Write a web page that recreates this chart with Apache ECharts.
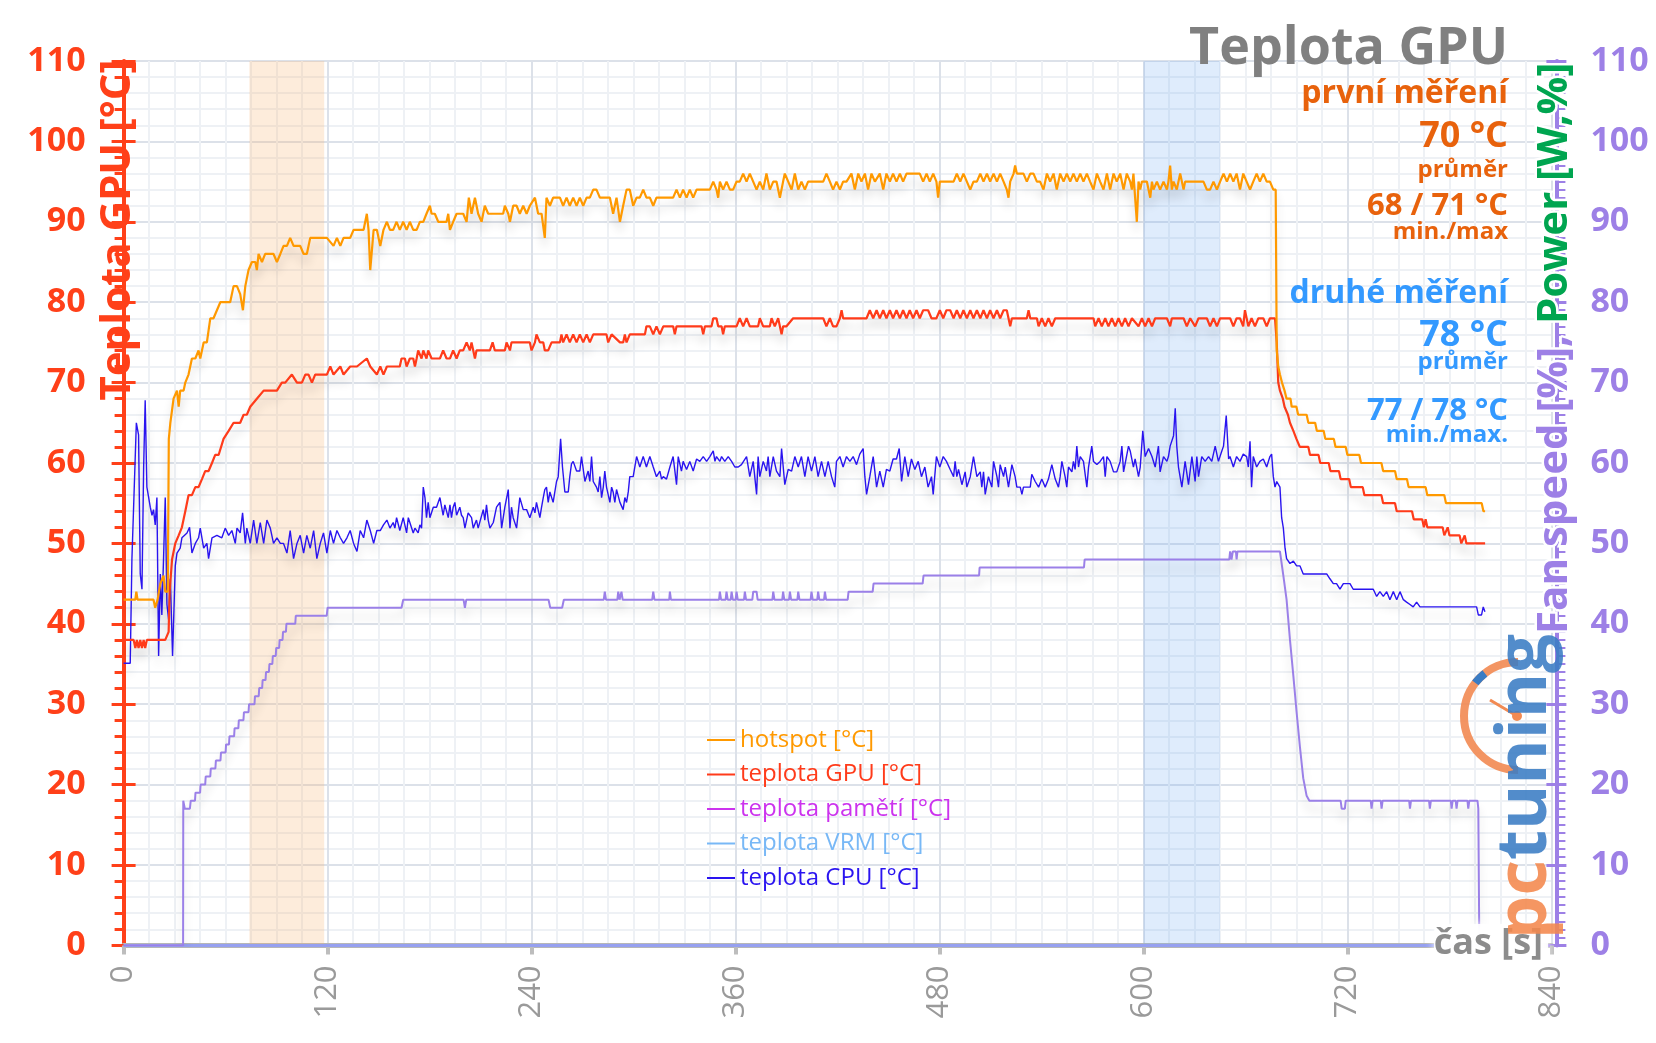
<!DOCTYPE html>
<html>
<head>
<meta charset="utf-8">
<title>Teplota GPU</title>
<script src="https://cdn.jsdelivr.net/npm/echarts@6.0.0/dist/echarts.min.js"></script>
<style>
html, body { margin: 0; padding: 0; background: #fff; }
#chart { width: 1656px; height: 1043px; }
</style>
</head>
<body>
<div id="chart"></div>
<script>
// [time s, value]
const hotspot = [
  [0,43],[6.9,43],[7.5,44],[8.2,43],[17.6,43],[18.6,42],[20,43],[21.6,45],[23.5,46],[24.5,44],[26,44],[26.6,63],[27.5,65],[29.4,68],[31.4,69],[32.4,67],[33.3,69],[35.3,69],[36.3,70],[38.2,71],[40.2,73],[42.2,73],[44.1,74],[45.1,73],[47.1,75],[49,75],[51,78],[52.9,78],[54.9,79],[56.9,80],[60.8,80],[62.7,80],[64.7,82],[66.7,82],[68.6,81],[70.2,79],[71.6,82],[73.5,84],[75.5,85],[77.5,85],[78.4,84],[79.4,86],[81.4,85],[83.3,86],[86.3,86],[88.2,86],[90.2,85],[92.2,86],[94.1,87],[96.1,87],[98,88],[100,87],[102,87],[103.9,87],[105.9,86],[107.8,86],[109.8,88],[111.8,88],[113.7,88],[119.6,88],[123.5,87],[125.5,88],[127.5,87],[129.4,88],[133.3,88],[135.3,89],[138.2,89],[141.2,89],[143.1,91],[144.1,89],[145.1,84],[147.1,89],[149,89],[151,87],[152.9,89],[154.9,90],
  [156.7,89],[158.6,89],[160.6,90],[162.5,89],[164.5,90],[166.5,89],[168.4,90],[170.4,89],[172.4,89],[174.3,90],[176.3,90],[178.2,91],[180.2,92],[181.2,91],[183.1,91],[185.1,90],[188,90],[190,90],[191,91],[192,89],[193.9,90],[195.9,91],[197.8,91],[199.8,91],[201.8,90],[203.1,93],[204.7,91],[206.7,93],[208.6,91],[210.6,90],[212.5,92],[214.5,91],[216.5,91],[220.4,91],[223.3,91],[224.3,92],[226.3,91],[227.3,90],[229.2,92],[231.2,92],[233.1,91],[235.1,92],[237.1,91],[239,92],[242,93],[243.9,91],[245.9,91],[247.8,88],[248.8,93],[250.8,92],[252.7,93],[254.7,93],[256.7,93],[258.6,92],[260.6,93],[262.5,92],[264.5,93],[266.5,92],[268.4,93],[270.4,92],[272.4,93],[274.3,93],[276.3,94],[278.2,94],[280.2,93],[282.2,93],[284.1,93],[286.1,93],[288,91],[290,93],[292,90],[293.9,92],[295.9,94],[297.8,94],[299.8,92],[301.8,93],[303.7,93],[305.7,94],[307.6,93],[309.6,93],[311.6,92],[313.5,93],[317.5,93],
  [321.4,93],[323.3,93],[325.3,94],[327.3,93],[329.2,94],[331.2,93],[333.1,94],[335.1,93],[337.1,94],[339,94],[341,94],[343,94],[344.9,94],[346.9,95],[348.8,94],[349.8,93],[350.8,95],[352.7,94],[354.7,95],[356.7,94],[358.6,94],[360.6,95],[362.5,95],[364.5,96],[366.5,95],[368.4,96],[370.4,95],[372.4,94],[374.3,95],[376.3,94],[378.2,96],[380.2,94],[382.2,95],[384.1,95],[386.1,93],[388,95],[389,96],[391,95],[393,94],[394.9,96],[396.9,94],[398.8,95],[400.8,94],[402.7,95],[404.7,95],[407.6,95],[411.6,95],[413.5,96],[415.5,95],[417.4,94],[419.4,95],[421.4,94],[423.3,95],[425.3,95],[428.2,96],[430.2,94],[432.2,96],[434.1,95],[436.1,96],[438,94],[440,96],[442,95],[444.9,96],[446.9,94],[448.8,96],[450.8,95],[452.7,96],[454.7,95],[456.7,96],[458.6,95],[460.6,96],[462.5,96],[466.5,96],[468.4,96],[470.4,95],[472.4,96],[474.3,95],[476.3,96],[478.2,95],[479.2,93],[480.2,95],[484.1,95],
  [486.3,95],[488.3,95],[490.2,96],[492.2,95],[494.1,96],[496.1,95],[498.1,94],[500,95],[502,95],[504,96],[505.9,95],[507.9,96],[509.8,95],[511.8,96],[513.8,95],[515.7,96],[517.7,95],[519.6,94],[520.6,93],[521.6,95],[523.6,96],[524.5,97],[525.5,96],[527.5,96],[529.4,96],[531.4,95],[533.4,96],[535.3,96],[537.3,95],[539.2,95],[541.2,94],[543.2,96],[545.1,95],[547.1,96],[549,94],[551,96],[553,95],[554.9,96],[556.9,95],[558.8,96],[560.8,95],[562.8,96],[564.7,95],[566.7,96],[568.6,95],[570.6,94],[572.6,96],[574.5,95],[576.5,94],[578.5,96],[580.4,94],[582.4,96],[584.3,95],[586.3,96],[588.3,94],[590.2,96],[592.2,95],[593.2,94],[594.1,96],[595.1,93],[596.1,90],[597.1,95],[598.1,94],[599.1,95],[602,95],[604,93],[605,95],[605.9,94],[607.9,95],[609.8,94],[611.8,95],[613.8,94],[614.7,95],[615.7,97],[616.7,94],[617.7,95],[619.6,94],[621.6,96],[623.6,94],[624.5,95],[627.5,95],[635.3,95],[637.3,94],[639.2,94],[641.2,95],[643.2,94],[645.1,95],[647.1,96],[649.1,95],
  [651,96],[652.9,95],[654.8,96],[656.8,94],[658.7,96],[660.7,95],[662.7,94],[664.6,95],[666.6,96],[668.5,95],[670.5,96],[672.5,95],[674.4,95],[676.4,94],[677.8,94],
  [678.4,74],[679.3,72],[680.3,71],[681.5,70],[683,69],[684.2,68],[686.5,68],[687.2,67],[690,67],[691,66],[696,66],[697,65],[701,65],[702,64],[706,64],[707,63],[712,63],[713,62],[719,62],[720,61],[727,61],[728,60],[740,60],[741,59],[748,59],[749,58],[755,58],[756,57],[766,57],[767,56],[777,56],[778,55],[799,55],[800,54],[801,54]
];

const gpuTemp = [
  [0,38],[5.9,38],[6.9,37],[7.8,38],[8.8,37],[9.8,38],[10.8,37],[11.8,38],[12.7,37],[13.7,38],[21.6,38],[24.5,38],[26.5,39],[27.1,44],[28.5,48],[30.4,50],[32.4,51],[34.3,52],[36.3,54],[38.2,56],[40.2,56],[42.2,57],[44.1,57],[46.1,58],[48,59],[50,59],[52,60],[53.9,61],[55.9,61],[58.8,63],[61.8,64],[64.7,65],[68.6,65],[70.6,66],[72.5,66],[74.5,67],[78.4,68],[82.4,69],[86.3,69],[90.2,69],[93.1,70],[95.1,70],[99,71],[102,70],[104.9,70],[106.9,71],[108.8,71],[110.8,70],[112.7,71],[119.6,71],[121.6,72],[123.5,71],[127.5,72],[129.4,71],[133.3,72],[137.3,72],[143.1,73],[145.1,72],[149,71],[151,72],[152.9,71],[154.9,72],
  [156.7,72],[162.5,72],[163.5,73],[165.5,73],[166.5,72],[168.4,73],[170.4,73],[171.4,72],[172.4,73],[173.3,74],[175.3,73],[176.3,74],[178.2,73],[179.2,74],[181.2,73],[186.1,73],[188,74],[190,73],[192,73],[193.9,74],[195.9,73],[197.8,74],[199.8,74],[201.8,75],[203.7,74],[204.7,75],[206.7,73],[207.6,74],[212.5,74],[215.5,74],[217.1,75],[218.4,74],[224.3,74],[225.3,75],[227.3,74],[228.2,75],[239,75],[240,74],[242,75],[242.9,76],[244.9,75],[246.9,75],[247.8,74],[249.8,74],[251.8,75],[256.7,75],[257.6,76],[258.6,75],[260.6,76],[262.5,75],[264.5,76],[266.5,75],[268.4,76],[270.4,75],[272.4,76],[274.3,75],[276.3,76],[284.1,76],[285.1,75],[287.1,76],[292,75],[293.9,75],[294.9,76],[295.9,75],[297.8,76],[306.7,76],[307.6,77],[309.6,77],[311.6,76],[313.5,77],[315.5,76],[317.5,77],
  [321.4,77],[323.3,77],[324.3,76],[325.3,77],[340,77],[341,76],[342,77],[345.9,77],[346.9,78],[348.8,78],[349.8,77],[351.8,77],[352.7,76],[353.7,77],[360.6,77],[362.5,78],[364.5,77],[366.5,78],[368.4,77],[373.3,77],[374.3,78],[376.3,77],[380.2,77],[381.2,78],[383.1,77],[385.1,78],[387.1,76],[388,77],[390,77],[393.9,78],[411.6,78],[413.5,77],[415.5,78],[417.4,77],[419.4,77],[421.4,78],[422.4,79],[423.3,78],[437.1,78],[439,79],[441,78],[443,79],[444.9,78],[446.9,79],[448.8,78],[450.8,79],[452.7,78],[454.7,79],[456.7,78],[458.6,79],[460.6,78],[462.5,79],[464.5,78],[466.5,79],[468.4,78],[470.4,79],[473.3,79],[475.3,78],[478.2,78],[480.2,79],[482.2,78],[484.1,79],
  [486.3,79],[488.3,78],[490.2,79],[492.2,78],[494.1,79],[496.1,78],[498.1,79],[500,78],[502,79],[504,78],[505.9,79],[507.9,78],[509.8,79],[511.8,78],[513.8,79],[515.7,78],[517.7,79],[519.6,79],[521.6,77],[522.6,78],[531.4,78],[532.4,79],[533.4,78],[537.3,78],[538.3,77],[540.2,78],[542.2,77],[544.1,78],[546.1,77],[548.1,78],[570.6,78],[571.6,77],[573.6,78],[575.5,77],[577.5,78],[579.4,77],[581.4,78],[583.4,77],[585.3,78],[587.3,77],[589.2,78],[591.2,77],[593.2,78],[597.1,77],[599.1,78],[601,77],[603,78],[605,77],[606.9,78],[613.8,78],[615.7,77],[616.7,78],[623.6,78],[625.5,77],[627.5,78],[630.4,77],[632.4,78],[637.3,78],[639.2,77],[641.2,78],[643.2,77],[645.1,78],[649.1,78],
  [651,78],[652.9,77],[654.8,78],[656.8,78],[658.7,77],[659.7,79],[661.7,77],[663.6,78],[665.6,77],[667.6,78],[670.5,78],[672.5,77],[674.4,78],[677.4,78],
  [678.4,75],[679.3,70],[680.3,69],[682,68],[683,67],[685,66],[686.2,65],[688.2,64],[690,63],[692,62],[697,62],[698,61],[703,61],[704,60],[709,60],[710,59],[715,59],[716,58],[721,58],[722,57],[729,57],[730,56],[740,56],[741,55],[748,55],[749,54],[758,54],[759,53],[764,53],[765,52],[766,53],[767,52],[776,52],[777,51],[779,52],[780,51],[786,51],[787,50],[789,51],[790,50],[801,50]
];

const cpuTemp = [
  [0,35.1],[3.9,35.1],[4.9,48.1],[7.5,65],[8.8,63.5],[9.8,46.2],[10.8,44.3],[11.8,59.6],[12.7,67.8],[13.7,57],[15.7,54.5],[16.7,53.5],[17.6,54.2],[18.6,52.3],[19.6,55.7],[20.6,36],[21.6,46.2],[22.5,41.1],[23.5,48.1],[24.5,55.7],[25.5,42.4],[26.5,40.5],[27.5,45.6],[28.8,36],[30.4,47.2],[31.4,48.8],[33.3,49.4],[34.3,50.7],[37.3,51.3],[38.8,52],[40.2,48.8],[42.2,50],[44.1,50.7],[45.1,51.9],[47.1,49.4],[49,50],[50,48.1],[52,50.7],[54.9,51],[57.8,50.7],[59.8,51.9],[61.8,51],[63.7,51.6],[65.7,50],[66.7,51.9],[68.6,51.3],[70,53.8],[71.6,50],[72.5,51.9],[74.5,50],[76.5,52.9],[78.4,50],[80.4,52.6],[82.4,50],[84.3,52.9],[86.3,51.9],[88.2,50],[90.2,50.7],[92.2,50],[94.1,50],[96.1,48.8],[98,51.6],[100,48.1],[102,50],[103.9,51],[105.9,48.8],[107.8,51],[109.8,49.4],[111.8,51.6],[113.7,48.1],[115.7,50],[117.6,51.3],[119.6,48.8],[121.6,51.6],[123.5,50],[125.5,51.6],[127.5,50.7],[129.4,50],[131.4,50.7],[133.3,51.6],[135.3,50],[137.3,49],[139.2,51.6],[141.2,50.7],[143.1,52.9],[145.1,51.6],[147.1,50],[149,51.6],[151,51.6],[152.9,52.3],[154.9,52.9],
  [156.7,51.9],[158.6,52.6],[159.6,51.9],[160.6,53.2],[162.5,51.6],[164.5,53.2],[166.5,51.3],[167.5,53.2],[168.4,53.2],[170.4,51.3],[171.4,51.9],[173.3,51.3],[174.3,52.3],[175.3,51.9],[176.3,57],[177.3,55.7],[178.2,53.2],[179.2,55.1],[180.2,53.2],[182.2,54.5],[184.1,54.5],[186.1,55.7],[187.1,54.5],[188,53.5],[189,54.8],[191,53.2],[192,54.8],[192.9,53.2],[193.9,54.5],[194.9,55.1],[195.9,53.5],[197.8,54.5],[198.8,53.5],[199.8,53.2],[200.8,51.9],[202.7,53.8],[204.7,53.2],[205.7,51.9],[207.6,52.9],[208.6,51.9],[209.6,51.9],[211.6,54.2],[212.5,52.9],[213.5,54.8],[214.5,52.9],[215.5,51.9],[217.5,52.6],[219.4,54.5],[220.4,54.5],[221.4,55.1],[222.4,51.9],[224.3,54.5],[226.3,56.7],[227.3,51.9],[228.2,54.5],[229.2,53.2],[231.2,51.9],[233.1,55.7],[235.1,54.2],[237.1,54.2],[239,53.2],[241,54.5],[242,53.8],[242.9,55.1],[244.9,53.2],[245.9,54.5],[246.9,55.7],[247.8,56.7],[248.8,57],[249.8,55.1],[250.8,56.4],[252.7,55.1],[254.7,57.7],[255.7,58.3],[257.1,63],[258.2,59.5],[259.6,56.4],[261.6,56.4],[262.5,58.3],[263.5,59.9],[264.5,60.2],[266.5,59],[268.4,59],[269.4,60.8],[271.4,57.7],[273.3,59],[274.3,57.7],[275.3,60.8],[276.3,57.7],[278.2,57],[279.2,56.4],[280.2,58.3],[281.2,55.7],[282.2,57],[283.1,59],[284.1,57],[286.1,55.1],[287.1,57],[288,56.4],[289,55.1],[290,56.7],[292,55.1],[293.9,54.2],[294.9,55.7],[295.9,55.1],[296.9,56.4],[297.8,58.3],[299.8,58.3],[301.8,60.8],[302.7,60.2],[303.7,59.5],[305.7,60.8],[307.6,59.5],[309.6,60.8],[311.6,59.5],[313.5,58.3],[315.5,59],[316.5,58],[317.5,58.3],[319.4,58],
  [321.4,59.5],[323.3,60.8],[325.3,57.3],[326.3,60.8],[328.2,59],[329.2,60.2],[331.2,59.2],[333.1,60.2],[335.1,59],[337.1,60.5],[339,60.2],[341,60.8],[343,60.2],[344.9,60.8],[346.9,61.5],[347.9,60.2],[348.8,60.8],[350.8,60.2],[351.8,60.8],[353.7,60.2],[355.7,60.8],[357.7,60.2],[359.6,59.5],[361.6,59.5],[363.5,59.8],[366.5,60.8],[368.4,58.3],[370.4,60.2],[372.4,56.1],[373.3,60.8],[374.3,58.3],[376.3,60.2],[378.2,59],[379.2,60.8],[380.2,58.3],[382.2,60.8],[384.1,59],[386.1,58.3],[387.1,61.8],[389,57.3],[391,59.2],[393,59],[394.9,60.8],[396.9,59.5],[398.8,60.8],[400.8,58.3],[402.7,60.8],[404.7,59],[406.7,60.8],[408.6,58.3],[410.6,60.2],[412.6,58.3],[414.5,60.2],[416.5,58.3],[418.4,57],[419.4,60.2],[421.4,60.8],[423.3,59.5],[425.3,60.8],[427.3,60.2],[429.2,60.8],[431.2,59.8],[433.1,61.1],[435.1,61.8],[436.1,58.3],[437.1,56.1],[439,58.3],[441,60.8],[443,57],[444.9,59],[446.9,57],[448.8,59.2],[450.8,59],[452.7,60.5],[454.7,60.5],[456.3,61.8],[457.7,57.7],[459.6,60.8],[461.6,58.3],[463.5,60.5],[465.5,59.2],[467.5,60.2],[469.4,58.3],[471.4,59.5],[473.3,57],[475.3,58.3],[476.3,56.1],[478.2,60.8],[480.2,59.5],[482.2,60.8],[484.1,60.2],
  [486.3,59.2],[488.3,58.3],[489.2,60.2],[490.2,58.3],[491.2,59.2],[493.2,57.3],[495.1,58.9],[496.1,57],[498.1,58.3],[500,60.8],[501,60.8],[502,58.3],[504,58.9],[504.9,57],[505.9,58.9],[506.9,56.1],[508.8,58.3],[510.8,57],[511.8,60.2],[513.8,58.3],[514.7,57],[515.7,59.8],[517.7,58.3],[518.7,59.5],[520.6,57],[522.6,59.8],[524.5,58.3],[525.5,57],[527.5,57],[528.5,56.1],[529.4,57],[533.4,57],[534.3,58.6],[536.3,57.7],[538.3,57],[540.2,58],[542.2,57],[544.1,58],[546.1,59.8],[548.1,58],[550,57],[551,58.3],[552,60.2],[553.9,58.3],[554.9,57],[555.9,59.5],[557.9,58.9],[558.8,60.2],[559.8,59.2],[560.8,62.1],[561.8,59.5],[562.8,60.8],[564.7,60.2],[566.7,57],[567.7,59.5],[569.6,62.1],[570.6,60.2],[572.6,59.8],[574.5,60.2],[576.5,60.8],[577.5,58.3],[578.5,60.8],[580.4,60.2],[582.4,58.9],[584.3,58.9],[586.3,60.2],[587.3,62.1],[588.3,58.9],[589.2,58.9],[591.2,62.1],[592.2,61.5],[594.1,59.5],[595.1,60.5],[597.1,58.3],[598.1,59.5],[599.6,64],[601,60.8],[603,61.8],[605,60.8],[606.9,59.5],[608.8,62.1],[609.8,58.9],[611.8,60.8],[613.8,60.2],[614.7,60.8],[615.7,62.1],[617.7,63.4],[618.7,66.8],[619.6,62.1],[620.6,59.5],[622.6,57],[624.5,60.2],[626.5,57.3],[628.5,60.8],[630.4,57.7],[631.4,60.8],[632.4,58.3],[634.3,60.8],[636.3,60.2],[638.3,60.8],[640.2,60.2],[642.2,62.1],[644.1,60.2],[646.1,61.5],[647.1,62.1],[648.7,65.9],[650.1,60.5],
  [650.9,60.8],[652.9,59.5],[654.8,60.8],[656.8,60.2],[658.7,61.1],[660.7,60.8],[661.7,59.5],[662.7,62.7],[663.6,57],[664.6,60.8],[666.6,59.5],[668.5,60.2],[670.5,60.5],[672.5,59.5],[674.4,60.8],[675.4,61.1],[676.4,58.3],[677.4,57],[678.4,57.7],[679.3,57.7],[680.3,57],[681.3,53.2],[682.3,51.9],[683.3,49.4],[684.2,48.1],[686.2,47.5],[688.2,47.8],[690.1,47.2],[692.1,47.2],[694,46.2],[707.8,46.2],[709.7,45.6],[711.7,45],[713.6,45],[715.6,44.3],[717.6,45],[721.5,45],[723.4,44.3],[735.2,44.3],[737.2,43.4],[739.1,44],[741.1,43.4],[743.1,44],[745,43],[747,44],[749,43],[750.9,44],[752.9,43],[754.8,42.7],[756.8,42.4],[758.7,42.1],[760.7,42.7],[762.7,42.1],[796,42.1],[797,41.1],[798.9,41.1],[799.9,42.1],[800.9,41.5]
];

const fanSpeed = [
  [0,0],[35,0],[35.1,18],[36,17],[39,17],[39.5,18],[42,18],[42.3,19],[45,19],[45.3,20],[48,20],[48.3,21],[51,21],[51.3,22],[54,22],[54.3,23],[57,23],[57.3,24],[60,24],[60.3,25],[62,25],[62.3,26],[65,26],[65.3,27],[67.5,27],[67.8,28],[70.5,28],[70.8,29],[73.5,29],[73.8,30],[77,30],[77.3,31],[79.5,31],[79.8,32],[81.5,32],[81.8,33],[83.5,33],[83.8,34],[85.5,34],[85.8,35],[87.5,35],[87.8,36],[89.5,36],[89.8,37],[91.5,37],[91.8,38],[93.5,38],[93.8,39],[95.5,39],[95.8,40],[101,40],[101.3,41],[119.5,41],[120,42],
  [163.5,42],[164.5,43],[200,43],[200.8,42],[201.6,43],[250,43],[251,42],[258,42],[259,43],[282.5,43],[283.1,44],[283.8,43],[290.5,43],[291,44],[291.8,43],[292.4,43],[292.9,44],[293.6,43],[311,43],[311.6,44],[312.3,43],
  [321,43],[321.4,44],[322,43],[350.3,43],[350.8,44],[351.5,43],[354.2,43],[354.7,44],[355.4,43],[357.2,43],[357.7,44],[358.4,43],[360.1,43],[360.6,44],[361.3,43],[365,43],[365.5,44],[366.2,43],[369.9,43],[370.4,44],[372.4,44],[373,43],[381.7,43],[382.2,44],[382.9,43],[387.5,43],[388,44],[388.7,43],[391.5,43],[392,44],[392.7,43],[396.4,43],[396.9,44],[397.6,43],[404.2,43],[404.7,44],[405.4,43],[408.1,43],[408.6,44],[409.3,43],[412.1,43],[412.6,44],[413.3,43],[426,43],[426.5,44],[440.7,44],[441.2,45],[470.1,45],[470.6,46],
  [503.3,46],[503.6,47],[565,47],[565.4,48],[650.5,48],[651,49],[651.8,48],[652.6,49],[654.4,49],[654.8,48],[655.3,49],
  [680.3,49],[682.3,46],[684.2,43],[686.2,38],[688.2,33.5],[690.1,29],[692.1,24.6],[694,20.8],[696,18.6],[697.6,18],[716,18],[716.6,17],[718.5,17],[719,18],[733.7,18],[734.2,17],[734.8,18],[739.6,18],[740.1,17],[740.7,18],[756.3,18],[756.8,17],[757.4,18],[768,18],[768.5,17],[769.1,18],[780.8,18],[781.3,17],[781.9,18],[783.7,18],[784.2,17],[784.8,18],[790.6,18],[791.1,17],[791.7,18],[796.5,18],[797,17],[797.4,17],[797.6,0]
];

const powerZero = [[0, 0], [800, 0]];
const memTemp = [];
const vrmTemp = [];

const bandFirst = [74, 118];
const bandSecond = [600, 645];

const seriesNames = ['hotspot [°C]', 'teplota GPU [°C]', 'teplota pamětí [°C]', 'teplota VRM [°C]', 'teplota CPU [°C]'];
const seriesColors = ['#ff9900', '#ff3b1a', '#cc33ee', '#78b8f6', '#2a14f0'];

const fanColor = '#9b80e8';
const zeroColor = '#96a0f0';
const leftColor = '#ff4019';
const rightColor = '#9d80e6';
const firstColor = '#e8620c';
const secondColor = '#3399ff';
const FONT = '"Open Sans"';

const chart = echarts.init(document.getElementById('chart'));

function lineSeries(name, data, color, width, yAxisIndex) {
  return {
    name: name,
    type: 'line',
    data: data,
    yAxisIndex: yAxisIndex || 0,
    showSymbol: false,
    symbol: 'none',
    itemStyle: { color: color },
    lineStyle: {
      color: color, width: width,
      shadowColor: 'rgba(0,0,0,0.16)', shadowBlur: 10, shadowOffsetY: 9
    },
    z: 3
  };
}

function txt(text, x, y, size, color, opts) {
  const o = opts || {};
  return {
    type: 'text', x: x, y: y, z: 100,
    rotation: o.rotation || 0,
    style: {
      text: text,
      font: (o.weight || 'bold') + ' ' + size + 'px ' + FONT,
      fill: color,
      align: o.align || 'right', textAlign: o.align || 'right',
      verticalAlign: 'middle', textVerticalAlign: 'middle',
      stroke: o.stroke || null, lineWidth: o.lineWidth || 0,
      opacity: o.opacity == null ? 1 : o.opacity
    }
  };
}

const yBase = {
  type: 'value', min: 0, max: 110, interval: 10
};

const option = {
  animation: false,
  backgroundColor: '#ffffff',
  textStyle: { fontFamily: FONT },
  grid: { left: 123.6, right: 104.6, top: 61, bottom: 97.6, outerBoundsMode: 'none', containLabel: false },
  legend: {
    orient: 'vertical', left: 702, top: 723,
    itemWidth: 28, itemHeight: 2, itemGap: 10.5, icon: 'rect',
    textStyle: { fontFamily: FONT, fontSize: 24, lineHeight: 24 },
    data: seriesNames.map((n, i) => ({ name: n, textStyle: { color: seriesColors[i] } }))
  },
  xAxis: {
    type: 'value', min: 0, max: 840, interval: 120,
    axisLine: { onZero: false, lineStyle: { color: '#b6b6b6', width: 5 } },
    axisTick: { show: true, length: 9, lineStyle: { color: '#bdbdbd', width: 4 } },
    minorTick: { show: false, splitNumber: 8 },
    splitLine: { show: true, lineStyle: { color: '#dce1e9', width: 2 } },
    minorSplitLine: { show: true, lineStyle: { color: '#eef1f5', width: 2 } },
    axisLabel: { rotate: 90, color: '#9a9a9a', fontSize: 31, fontFamily: FONT, margin: 20 }
  },
  yAxis: [
    Object.assign({}, yBase, {
      position: 'left',
      axisLine: { show: true, onZero: false, lineStyle: { color: leftColor, width: 4 } },
      axisTick: { show: true, length: 12, lineStyle: { color: leftColor, width: 3 } },
      minorTick: { show: true, splitNumber: 5, length: 9, lineStyle: { color: leftColor, width: 3 } },
      splitLine: { show: true, lineStyle: { color: '#dce1e9', width: 2 } },
      minorSplitLine: { show: true, lineStyle: { color: '#eef1f5', width: 2 } },
      axisLabel: { color: leftColor, fontSize: 34, fontWeight: 'bold', fontFamily: FONT, margin: 38 }
    }),
    Object.assign({}, yBase, {
      position: 'left',
      axisLine: { show: false, onZero: false },
      axisTick: { show: true, inside: true, length: 12, lineStyle: { color: leftColor, width: 3 } },
      splitLine: { show: false },
      axisLabel: { show: false }
    }),
    Object.assign({}, yBase, {
      position: 'right', offset: 5,
      axisLine: { show: true, onZero: false, lineStyle: { color: rightColor, width: 4 } },
      axisTick: { show: true, length: 10, lineStyle: { color: rightColor, width: 3 } },
      minorTick: { show: true, splitNumber: 10, length: 9, lineStyle: { color: rightColor, width: 2 } },
      splitLine: { show: false },
      axisLabel: { color: rightColor, fontSize: 34, fontWeight: 'bold', fontFamily: FONT, margin: 34 }
    }),
    Object.assign({}, yBase, {
      position: 'right', offset: 5,
      axisLine: { show: false, onZero: false },
      axisTick: { show: true, inside: true, length: 10, lineStyle: { color: rightColor, width: 3 } },
      splitLine: { show: false },
      axisLabel: { show: false }
    })
  ],
  series: [
    {
      name: 'power', type: 'line', data: powerZero, showSymbol: false, symbol: 'none',
      lineStyle: { color: zeroColor, width: 3 }, z: 2,
      markArea: {
        silent: true,
        data: [
          [{ xAxis: bandFirst[0], itemStyle: { color: 'rgba(247,180,110,0.25)' } }, { xAxis: bandFirst[1] }],
          [{ xAxis: bandSecond[0], itemStyle: { color: 'rgba(110,170,240,0.22)' } }, { xAxis: bandSecond[1] }]
        ]
      }
    },
    lineSeries('fan', fanSpeed, fanColor, 2, 2),
    lineSeries(seriesNames[2], memTemp, seriesColors[2], 2),
    lineSeries(seriesNames[3], vrmTemp, seriesColors[3], 2),
    lineSeries(seriesNames[4], cpuTemp, seriesColors[4], 1.4),
    lineSeries(seriesNames[1], gpuTemp, seriesColors[1], 2.2),
    lineSeries(seriesNames[0], hotspot, seriesColors[0], 2.2)
  ],
  graphic: [
    txt('Teplota GPU', 1508, 49, 52, '#808080'),
    txt('první měření', 1508, 94, 32, firstColor),
    txt('70 °C', 1508, 137, 36, firstColor),
    txt('průměr', 1508, 170, 24, firstColor),
    txt('68 / 71 °C', 1508, 206, 31, firstColor),
    txt('min./max', 1508, 232, 24, firstColor),
    txt('druhé měření', 1508, 294, 32, secondColor),
    txt('78 °C', 1508, 336, 36, secondColor),
    txt('průměr', 1508, 362, 24, secondColor),
    txt('77 / 78 °C', 1508, 411, 31, secondColor),
    txt('min./max.', 1508, 435, 24, secondColor),
    txt('Teplota GPU [°C]', 118, 230, 42, leftColor, { rotation: Math.PI / 2, align: 'center' }),
    txt('Power [W,%]', 1555, 324, 42, '#00a550', { rotation: Math.PI / 2, align: 'left', stroke: '#fff', lineWidth: 5 }),
    txt('Fan speed [%], ', 1555, 324, 42, rightColor, { rotation: Math.PI / 2, align: 'right', stroke: '#fff', lineWidth: 5 }),
    {
      type: 'rect', z: 99, shape: { x: 1434, y: 924, width: 114, height: 40, r: 8 },
      style: { fill: 'rgba(255,255,255,0.9)', shadowColor: '#fff', shadowBlur: 8 }
    },
    txt('čas [s]', 1543, 944, 36, '#8c8c8c'),
    // pctuning logo
    {
      type: 'arc', z: 100,
      shape: { cx: 1518, cy: 716, r: 54, startAngle: Math.PI / 2, endAngle: Math.PI * 1.5, clockwise: true },
      style: { stroke: '#f28a52', lineWidth: 8, fill: null, opacity: 0.9 }
    },
    {
      type: 'arc', z: 101,
      shape: { cx: 1518, cy: 716, r: 54, startAngle: Math.PI * 1.21, endAngle: Math.PI * 1.29, clockwise: true },
      style: { stroke: '#3a7cc4', lineWidth: 8, fill: null }
    },
    {
      type: 'line', z: 100, shape: { x1: 1490, y1: 700, x2: 1517, y2: 716 },
      style: { stroke: '#f28a52', lineWidth: 3 }
    },
    { type: 'circle', z: 100, shape: { cx: 1517, cy: 716, r: 5 }, style: { fill: '#f28a52' } },
    txt('pc', 1526, 860, 69, '#f4884c', { rotation: Math.PI / 2, align: 'right', opacity: 0.88 }),
    txt('tuning', 1526, 860, 69, '#3a7cc4', { rotation: Math.PI / 2, align: 'left', opacity: 0.88 })
  ]
};

chart.setOption(option);
</script>
</body>
</html>
